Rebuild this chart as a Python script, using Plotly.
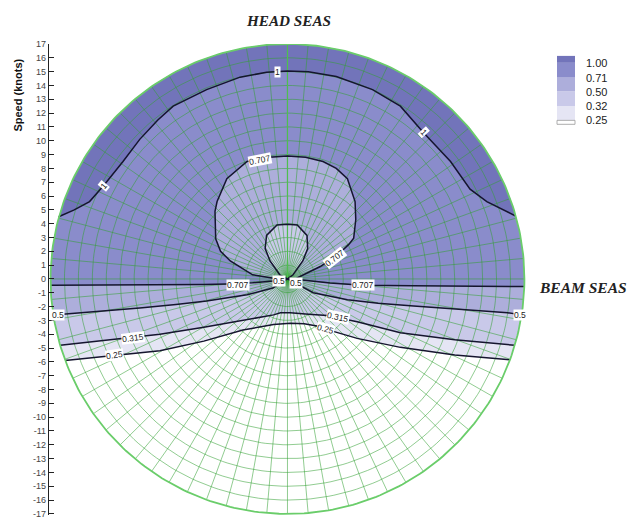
import math
import plotly.graph_objects as go

R_MAX = 17  # outer speed ring, knots

# ---- contour levels / legend -------------------------------------------
legend_labels = ["1.00", "0.71", "0.50", "0.32", "0.25"]
# flood colours: >1, 0.71-1, 0.5-0.71, 0.32-0.5, 0.25-0.32, <0.25
band_colors = ["#7274ba", "#8a8ccb", "#adaedb", "#c9c9e9", "#e5e5f4", "#ffffff"]

# ---- contour lines (x = athwart speed, y = ahead speed, knots) ----------
# level 1, port rim -> starboard rim
c100_x = [-16.42, -15.3, -14.2, -13.2, -11.8, -10.6, -9.3, -8.2, -5.8, -3.4, -1.5, 0.0,
          1.5, 3.5, 6.1, 8.1, 9.75, 11.7, 13.1, 14.3, 16.38]
c100_y = [4.5, 5.0, 5.6, 6.75, 8.5, 10.1, 11.5, 12.5, 13.7, 14.6, 14.95, 15.05,
          15.0, 14.65, 13.7, 12.5, 10.6, 8.5, 6.5, 5.6, 4.55]

# level 0.707 closed lobe ahead of the origin
lobe_x = [0.0, 0.65, 2.35, 3.55, 4.4, 4.75, 4.9, 4.85, 4.3, 3.5, 2.55, 1.3, 0.0,
          -1.3, -2.9, -4.35, -5.05, -5.2, -5.15, -4.8, -4.1, -2.5, -1.0, 0.0]
lobe_y = [0.0, 0.05, 0.9, 1.7, 2.5, 2.95, 4.3, 5.6, 7.25, 8.0, 8.5, 8.8, 8.9,
          8.8, 8.5, 7.25, 5.6, 4.9, 2.9, 2.0, 1.3, 0.3, 0.05, 0.0]

# level 0.5 small lobe ahead of the origin
inner_x = [0.0, 0.4, 1.1, 1.45, 1.4, 0.7, 0.0, -0.75, -1.5, -1.6, -1.25, -0.55, 0.0]
inner_y = [0.0, 0.3, 1.3, 2.2, 3.15, 3.9, 3.95, 3.9, 3.15, 2.2, 1.3, 0.3, 0.0]

# level 0.707 near beam seas, port branch and starboard branch
c707_l_x = [-16.99, -13.0, -9.0, -6.0, -4.35, -2.5, -1.05, 0.0]
c707_l_y = [-0.45, -0.45, -0.44, -0.4, -0.36, -0.28, -0.15, 0.0]
c707_r_x = [0.0, 0.9, 3.05, 5.4, 9.0, 13.0, 16.99]
c707_r_y = [0.0, -0.05, -0.3, -0.45, -0.5, -0.52, -0.55]

# level 0.5, port and starboard branches
c50_l_x = [-16.8, -13.5, -10.6, -8.0, -5.8, -2.9, -1.05, 0.0]
c50_l_y = [-2.6, -2.35, -2.1, -1.85, -1.6, -1.15, -0.65, 0.0]
c50_r_x = [0.0, 0.9, 1.85, 4.3, 6.5, 9.05, 12.5, 15.8, 16.8]
c50_r_y = [0.0, -0.5, -1.0, -1.5, -1.75, -1.95, -2.2, -2.45, -2.6]

# level 0.315
c315_x = [-16.3, -13.0, -11.1, -9.15, -6.0, -3.0, -1.0, -0.5, 0.2, 1.5, 2.85, 5.0, 8.1, 12.0, 16.3]
c315_y = [-4.8, -4.45, -4.25, -4.0, -3.5, -2.95, -2.6, -2.45, -2.45, -2.55, -2.65, -3.1, -3.9, -4.4, -4.8]

# level 0.25
c25_x = [-15.95, -14.0, -12.4, -9.15, -6.0, -3.2, -1.0, 0.2, 1.2, 2.1, 2.8, 5.0, 8.1, 12.0, 15.95]
c25_y = [-5.9, -5.7, -5.5, -5.2, -4.5, -3.7, -3.3, -3.2, -3.25, -3.4, -3.65, -4.3, -4.95, -5.5, -5.85]

# ---- in-line contour labels --------------------------------------------
lab_text = ["1", "1", "1", "0.707", "0.707", "0.707", "0.707", "0.5", "0.5",
            "0.5", "0.5", "0.315", "0.315", "0.25", "0.25"]
lab_x = [-13.2, -0.75, 9.75, -2.0, 3.4, -3.55, 5.4, -0.6, 0.6, -16.5, 16.65, -11.1, 3.6, -12.4, 2.75]
lab_y = [6.75, 15.0, 10.6, 8.6, 1.5, -0.42, -0.47, -0.15, -0.3, -2.6, -2.6, -4.25, -2.75, -5.5, -3.65]
lab_ang = [-50, 0, 48, -11, -38, 0, 0, 0, 0, 0, 0, -7, 12, -8, 15]

# ---- speed axis ticks ----------------------------------------------------
tick_vals = list(range(-17, 18))
tick_text = [str(v) for v in tick_vals]

# ---- page geometry -------------------------------------------------------
W, H = 628, 519
ML, MT = 49, 44
plot_w, plot_h = W - ML, H - MT
y_top, y_bot = 17.0, -17.08
ppk = plot_h / (y_top - y_bot)          # pixels per knot
x_left = -17.11
x_right = x_left + plot_w / ppk


def paper_x(px):
    return (px - ML) / plot_w


def paper_y(py):
    return (H - py) / plot_h


def region_above(xs, ys, n=160):
    """Closed outline: contour from port rim to starboard rim, back along the rim over the bow."""
    a_end = math.atan2(ys[-1], xs[-1])
    a_start = math.atan2(ys[0], xs[0])
    if a_start < a_end:
        a_start += 2 * math.pi
    arc = [a_end + (a_start - a_end) * i / n for i in range(n + 1)]
    px = list(xs) + [R_MAX * math.cos(a) for a in arc]
    py = list(ys) + [R_MAX * math.sin(a) for a in arc]
    return px, py


fig = go.Figure()


def add_fill(xs, ys, color):
    fig.add_trace(go.Scatter(x=xs, y=ys, mode="lines", fill="toself", fillcolor=color,
                             line=dict(width=0), hoverinfo="skip", showlegend=False))


# flood, from the lowest level upward
add_fill(*region_above(c25_x, c25_y), band_colors[4])
add_fill(*region_above(c315_x, c315_y), band_colors[3])
add_fill(*region_above(c50_l_x + c50_r_x[1:], c50_l_y + c50_r_y[1:]), band_colors[2])
add_fill(*region_above(c707_l_x + c707_r_x[1:], c707_l_y + c707_r_y[1:]), band_colors[1])
add_fill(lobe_x, lobe_y, band_colors[2])
add_fill(inner_x, inner_y, band_colors[3])
add_fill(*region_above(c100_x, c100_y), band_colors[0])

# polar mesh: rays every 5 deg, rings every knot
gx, gy = [], []
for k in range(72):
    th = math.radians(k * 5)
    gx += [0, R_MAX * math.sin(th), None]
    gy += [0, R_MAX * math.cos(th), None]
for r in range(1, R_MAX):
    for i in range(241):
        a = 2 * math.pi * i / 240
        gx.append(r * math.cos(a))
        gy.append(r * math.sin(a))
    gx.append(None)
    gy.append(None)
fig.add_trace(go.Scatter(x=gx, y=gy, mode="lines", line=dict(color="rgba(50,160,50,0.6)", width=0.9),
                         hoverinfo="skip", showlegend=False))
# head-seas centreline
fig.add_trace(go.Scatter(x=[0, 0], y=[0, R_MAX], mode="lines", line=dict(color="#4fbf4f", width=1.2),
                         hoverinfo="skip", showlegend=False))

# contour lines
for xs, ys in [(c100_x, c100_y), (lobe_x, lobe_y), (inner_x, inner_y), (c707_l_x, c707_l_y),
               (c707_r_x, c707_r_y), (c50_l_x, c50_l_y), (c50_r_x, c50_r_y),
               (c315_x, c315_y), (c25_x, c25_y)]:
    fig.add_trace(go.Scatter(x=xs, y=ys, mode="lines", line=dict(color="#15152e", width=1.5),
                             hoverinfo="skip", showlegend=False))

# rim
rim_a = [2 * math.pi * i / 360 for i in range(361)]
fig.add_trace(go.Scatter(x=[R_MAX * math.cos(a) for a in rim_a], y=[R_MAX * math.sin(a) for a in rim_a],
                         mode="lines", line=dict(color="#6acd6a", width=1.8),
                         hoverinfo="skip", showlegend=False))

annotations = []
for t, x, y, a in zip(lab_text, lab_x, lab_y, lab_ang):
    annotations.append(dict(x=x, y=y, xref="x", yref="y", text=t, showarrow=False, textangle=a,
                            xanchor="center", yanchor="middle",
                            font=dict(family="Arial, Liberation Sans", size=8.5, color="#222"),
                            bgcolor="white", borderpad=0))

annotations.append(dict(x=paper_x(288), y=paper_y(20), xref="paper", yref="paper",
                        xanchor="center", yanchor="middle",
                        text="<b><i>HEAD SEAS</i></b>", showarrow=False,
                        font=dict(family="Liberation Serif, Times New Roman", size=15.2, color="#222")))
annotations.append(dict(x=paper_x(583), y=paper_y(290), xref="paper", yref="paper",
                        xanchor="center", yanchor="middle",
                        text="<b><i>BEAM SEAS</i></b>", showarrow=False,
                        font=dict(family="Liberation Serif, Times New Roman", size=15.5, color="#222")))
annotations.append(dict(x=paper_x(18), y=paper_y(96), xref="paper", yref="paper",
                        xanchor="center", yanchor="middle",
                        text="<b>Speed (knots)</b>", showarrow=False, textangle=-90,
                        font=dict(family="Arial, Liberation Sans", size=11, color="#111")))

# contour legend
leg_x0, leg_x1 = 557, 575
leg_edges = [56, 63, 78, 92, 107, 121, 125]
shapes = []
for i in range(6):
    shapes.append(dict(type="rect", xref="paper", yref="paper",
                       x0=paper_x(leg_x0), x1=paper_x(leg_x1),
                       y0=paper_y(leg_edges[i + 1]), y1=paper_y(leg_edges[i]),
                       fillcolor=band_colors[i],
                       line=dict(width=0.8 if i == 5 else 0, color="#999")))
for i, lbl in enumerate(legend_labels):
    annotations.append(dict(x=paper_x(584), y=paper_y(leg_edges[i + 1]), xref="paper", yref="paper",
                            text=lbl, showarrow=False, xanchor="left", yanchor="middle",
                            font=dict(family="Arial, Liberation Sans", size=11, color="#222")))

fig.update_layout(
    width=W, height=H,
    margin=dict(l=ML, r=0, t=MT, b=0),
    paper_bgcolor="white", plot_bgcolor="white",
    showlegend=False,
    xaxis=dict(range=[x_left, x_right], visible=False, showgrid=False, zeroline=False),
    yaxis=dict(range=[y_bot, y_top], tickvals=tick_vals, ticktext=tick_text,
               ticks="inside", ticklen=5, tickcolor="#222", showline=True, linecolor="#222",
               linewidth=1.2, showgrid=False, zeroline=False, ticklabeloverflow="allow",
               tickfont=dict(family="Arial, Liberation Sans", size=9, color="#444")),
    annotations=annotations,
    shapes=shapes,
)

fig.write_html("out.html")
